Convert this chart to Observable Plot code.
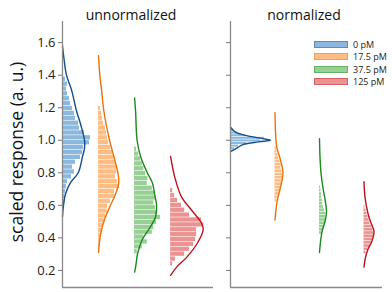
<!DOCTYPE html>
<html><head><meta charset="utf-8">
<script src="https://cdn.jsdelivr.net/npm/d3@7"></script>
<script src="https://cdn.jsdelivr.net/npm/@observablehq/plot@0.6"></script>
<style>
body{margin:0;background:#fff;font-family:"Open Sans",sans-serif;}
#wrap{position:relative;width:392px;height:292px;overflow:hidden;background:#fff;}
.panel{position:absolute;top:0;}
.title{position:absolute;top:5px;font-size:14px;color:#111;transform:translateX(-50%);white-space:nowrap;}
.ylab{position:absolute;left:16px;top:152px;font-size:17.5px;color:#111;transform:translate(-50%,-50%) rotate(-90deg);white-space:nowrap;}
.legend{position:absolute;left:314px;top:38px;font-size:9px;color:#222;}
.legend .row{display:flex;align-items:center;height:12.5px;}
.legend .sw{width:34px;height:7px;margin-right:5px;box-sizing:border-box;}
</style>
</head><body>
<div id="wrap"></div>
<script>
// ---- data ----
const conditions = ["0 pM", "17.5 pM", "37.5 pM", "125 pM"];
const panelTitles = ["unnormalized", "normalized"];
const yLabel = "scaled response (a. u.)";
const yTicks = [0.2, 0.4, 0.6, 0.8, 1.0, 1.2, 1.4, 1.6];
const yDomain = [0.095, 1.73];
const fillColors = ["#8bb8dc", "#ffbd84", "#97cf94", "#eb9393"];
const lineColors = ["#12508c", "#e8720c", "#1b8a1b", "#b8141e"];

// unnormalized histograms: bin start, bin width, bar lengths (density units)
const rawStart = [0.52, 0.31, 0.30, 0.225];
const rawBin = 0.03;
const rawBlue   = [1, 1, 1.5, 2, 2.5, 3, 4, 5, 9, 12, 10, 13, 18, 20, 21, 27, 28, 22, 17, 16, 13, 12, 10, 8, 7, 5, 4, 5, 3];
const rawOrange = [1, 1.5, 2, 3, 3.5, 5, 6, 7, 8.7, 9, 12, 16, 16, 21, 19, 17, 18, 19, 17, 15, 14, 12, 10, 9, 8, 7, 5, 4, 3, 2];
const rawGreen  = [2.7, 7.7, 12.7, 9.3, 17.7, 19.3, 22, 26, 22.7, 21, 19.3, 21, 21, 17.7, 12.7, 13.3, 11, 9.3, 7.7, 6, 4, 2];
const rawRed    = [2, 5, 14, 19, 23, 25, 26, 26, 33, 31, 19, 14, 11, 7, 4, 2];

// unnormalized density curves: [value, density]
const rawKdeBlue   = [[1.58,0],[1.50,1.5],[1.40,4],[1.31,9],[1.18,14],[1.10,18],[1.00,22],[0.95,22],[0.90,20],[0.80,15.7],[0.74,8],[0.67,3],[0.60,1],[0.53,0]];
const rawKdeOrange = [[1.52,0],[1.40,1.3],[1.31,3],[1.18,5.3],[1.00,11],[0.90,15.3],[0.80,19.3],[0.74,20.3],[0.67,17],[0.60,12],[0.53,7],[0.45,3],[0.39,1.3],[0.31,0]];
const rawKdeGreen  = [[1.26,0],[1.18,1],[1.00,2.5],[0.90,6],[0.80,12.7],[0.74,17.7],[0.67,20],[0.60,22],[0.53,21],[0.45,14],[0.39,7.7],[0.31,3.3],[0.22,1],[0.19,0]];
const rawKdeRed    = [[0.90,0],[0.77,4.3],[0.65,11],[0.57,21],[0.49,31],[0.45,32.5],[0.37,27],[0.28,16],[0.22,6],[0.17,0]];

// normalized histograms
const normStart = [0.94, 0.62, 0.42, 0.30];
const normBin = [0.016, 0.02, 0.02, 0.02];
const normBlue   = [4, 8, 16, 30, 34, 15, 7, 3];
const normOrange = [2, 3, 4, 5, 6, 7, 7, 8, 8, 7, 6, 6, 5, 4, 3, 2, 1.5];
const normGreen  = [2, 3, 5, 6, 7, 6, 6, 5, 4, 3, 3, 2, 2, 1.5, 1];
const normRed    = [2, 4, 6, 8, 9, 10, 10, 9, 8, 6, 5, 4, 3, 2, 1];

// normalized density curves
const normKdeBlue   = [[1.08,0],[1.05,5],[1.03,15],[1.01,32],[1.00,40],[0.99,28],[0.975,13],[0.955,7],[0.93,0]];
const normKdeOrange = [[1.17,0],[1.05,0.5],[1.00,1],[0.95,2],[0.90,4.5],[0.80,8],[0.70,5],[0.65,3],[0.60,1.5],[0.51,0]];
const normKdeGreen  = [[1.01,0],[0.90,0.5],[0.80,1.5],[0.70,3.7],[0.62,6],[0.56,7],[0.50,5.5],[0.45,3],[0.40,1.5],[0.31,0]];
const normKdeRed    = [[0.745,0],[0.65,1],[0.55,4],[0.50,6.5],[0.44,10],[0.38,8],[0.33,4],[0.28,1.5],[0.22,0]];

// ---- build ----
function panel({hists, kdes, unit, xMax, width, marginLeft, marginRight, labels}) {
  const bars = [];
  hists.forEach((h, g) => h.w.forEach((w, i) => bars.push({
    cond: conditions[g], y1: h.start + i * h.bin, y2: h.start + (i + 1) * h.bin, x1: g, x2: g + w / unit
  })));
  const lineMarks = kdes.map((k, g) => Plot.line(k.map(([v, w]) => ({y: v, x: g + w / unit})), {
    x: "x", y: "y", stroke: lineColors[g], strokeWidth: 1.4, curve: "catmull-rom"
  }));
  return Plot.plot({
    width, height: 292, marginLeft, marginRight, marginTop: 21, marginBottom: 5,
    style: {fontFamily: "Open Sans", fontSize: "13px", color: "#222", background: "transparent"},
    x: {domain: [0, xMax], axis: null},
    y: {domain: yDomain, label: null},
    color: {domain: conditions, range: fillColors},
    marks: [
      Plot.rect(bars, {x1: "x1", x2: "x2", y1: "y1", y2: "y2", fill: "cond", insetTop: 0.3, insetBottom: 0.3}),
      ...lineMarks,
      Plot.ruleX([0], {stroke: "#8a8a8a", strokeWidth: 1.3}),
      Plot.ruleY([yDomain[0]], {stroke: "#8a8a8a", strokeWidth: 1.3}),
      Plot.axisY({ticks: yTicks, tickSize: 4, tickPadding: 3, stroke: "#777", fill: "#222",
        tickFormat: labels ? d3.format(".1f") : () => "", label: null})
    ]
  });
}

const wrap = document.getElementById("wrap");

const left = panel({
  hists: [rawBlue, rawOrange, rawGreen, rawRed].map((w, g) => ({w, start: rawStart[g], bin: rawBin})),
  kdes: [rawKdeBlue, rawKdeOrange, rawKdeGreen, rawKdeRed],
  unit: 36, xMax: 4.19, width: 216, marginLeft: 62, marginRight: 3, labels: true
});
left.classList.add("panel"); left.style.left = "0px";
wrap.appendChild(left);

const right = panel({
  hists: [normBlue, normOrange, normGreen, normRed].map((w, g) => ({w, start: normStart[g], bin: normBin[g]})),
  kdes: [normKdeBlue, normKdeOrange, normKdeGreen, normKdeRed],
  unit: 44.5, xMax: 3.416, width: 176, marginLeft: 14, marginRight: 10, labels: false
});
right.classList.add("panel"); right.style.left = "216px";
wrap.appendChild(right);

[[panelTitles[0], 131], [panelTitles[1], 304]].forEach(([t, x]) => {
  const d = document.createElement("div");
  d.className = "title"; d.style.left = x + "px"; d.textContent = t;
  wrap.appendChild(d);
});

const yl = document.createElement("div");
yl.className = "ylab"; yl.textContent = yLabel;
wrap.appendChild(yl);

const lg = document.createElement("div");
lg.className = "legend";
conditions.forEach((c, i) => {
  const r = document.createElement("div"); r.className = "row";
  const sw = document.createElement("div"); sw.className = "sw";
  sw.style.background = fillColors[i]; sw.style.border = "0.6px solid " + lineColors[i] + "66";
  const tx = document.createElement("span"); tx.textContent = c;
  r.appendChild(sw); r.appendChild(tx); lg.appendChild(r);
});
wrap.appendChild(lg);
</script>
</body></html>
